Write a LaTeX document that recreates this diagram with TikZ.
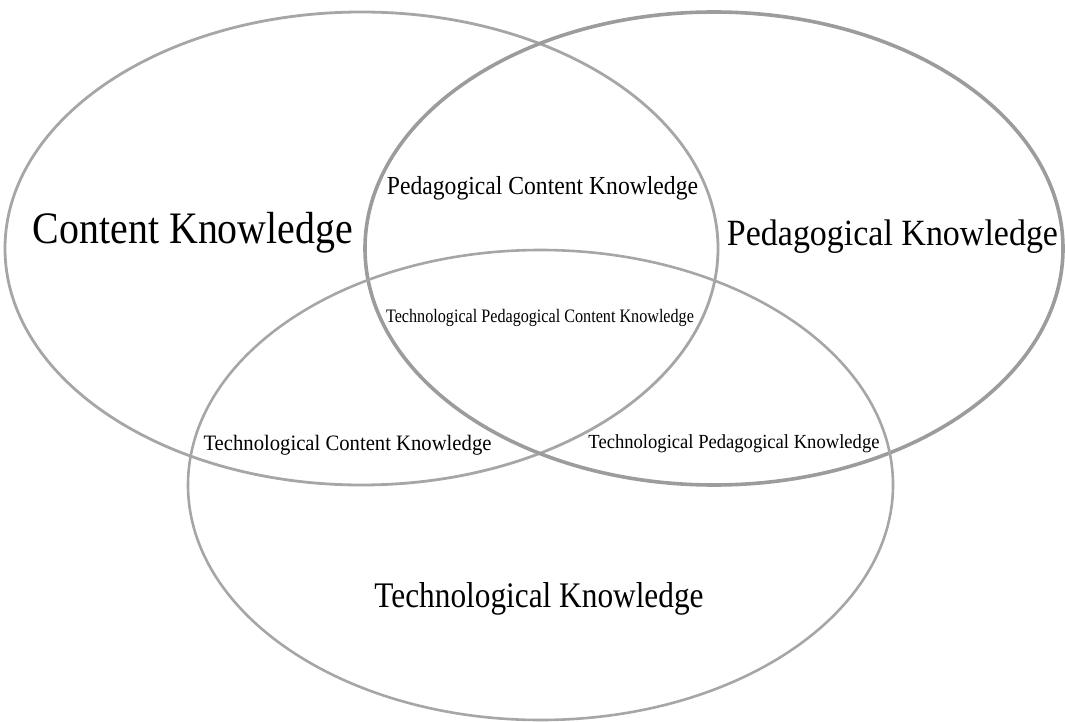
\documentclass[tikz,border=0pt]{standalone}
\usepackage{fontspec}
\setmainfont{Liberation Serif}
\definecolor{ringgray}{HTML}{A6A6A6}
\definecolor{ringdark}{HTML}{9C9C9C}
% horizontally condensed text
\newcommand{\cond}[2]{\scalebox{#1}[1]{#2}}
\begin{document}
\begin{tikzpicture}[x=1pt,y=-1pt,
  ring/.style={draw=ringgray,line width=2.8pt},
  label/.style={anchor=base,inner sep=0pt,text=black}]
\useasboundingbox (0,0) rectangle (1065,722);
% the three knowledge domains
\draw[ring] (361.5,248.5) ellipse [x radius=356.5,y radius=236.5];
\draw[ring,draw=ringdark,line width=3.6pt] (714,248.5) ellipse [x radius=349,y radius=236.5];
\draw[ring,line width=2.6pt] (540.5,485) ellipse [x radius=352.5,y radius=235];
% labels
\node[label,font=\fontsize{45}{50}\selectfont] (ck) at (193,243) {\cond{0.886}{Content Knowledge}};
\node[label,font=\fontsize{37}{42}\selectfont] (pk) at (892.5,245) {\cond{0.918}{Pedagogical Knowledge}};
\node[label,font=\fontsize{36}{40}\selectfont] (tk) at (539,607) {\cond{0.87}{Technological Knowledge}};
\node[label,font=\fontsize{26}{30}\selectfont] (pck) at (542.5,195) {\cond{0.909}{Pedagogical Content Knowledge}};
\node[label,font=\fontsize{19}{22}\selectfont] (tpck) at (540,322) {\cond{0.85}{Technological Pedagogical Content Knowledge}};
\node[label,font=\fontsize{22}{25}\selectfont] (tck) at (347.5,450) {\cond{0.94}{Technological Content Knowledge}};
\node[label,font=\fontsize{20}{23}\selectfont] (tpk) at (734,448) {\cond{0.93}{Technological Pedagogical Knowledge}};
\end{tikzpicture}
\end{document}
